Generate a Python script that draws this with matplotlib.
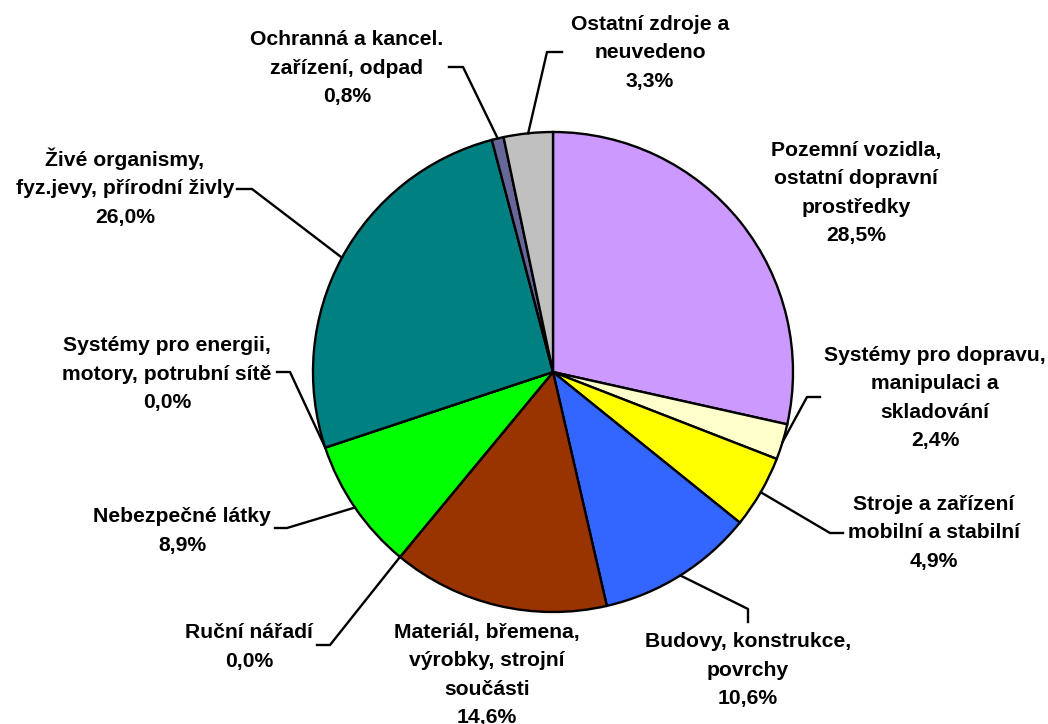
import numpy as np
import matplotlib.pyplot as plt

plt.rcParams['font.family'] = ['Liberation Sans', 'DejaVu Sans']

labels = [
    "Pozemní vozidla,\nostatní dopravní\nprostředky",
    "Systémy pro dopravu,\nmanipulaci a\nskladování",
    "Stroje a zařízení\nmobilní a stabilní",
    "Budovy, konstrukce,\npovrchy",
    "Materiál, břemena,\nvýrobky, strojní\nsoučásti",
    "Ruční nářadí",
    "Nebezpečné látky",
    "Systémy pro energii,\nmotory, potrubní sítě",
    "Živé organismy,\nfyz.jevy, přírodní živly",
    "Ochranná a kancel.\nzařízení, odpad",
    "Ostatní zdroje a\nneuvedeno",
]
shares = [28.5, 2.4, 4.9, 10.6, 14.6, 0.0, 8.9, 0.0, 26.0, 0.8, 3.3]
colors = ["#CC99FF", "#FFFFCC", "#FFFF00", "#3366FF", "#993300", "#808080",
          "#00FF00", "#808080", "#008080", "#666699", "#C0C0C0"]

# layout in pixels (y from top): label centre, leader bend, leader end
label_pos = [(856, 193), (935, 398), (934, 533), (748, 670), (487, 675),
             (249, 647), (182, 531), (167, 374), (125, 187), (347, 68), (650, 53)]
leaders = {
    1: [(807, 397), (820, 397)],
    2: [(830, 533), (843, 533)],
    3: [(748, 609), (748, 622)],
    5: [(330, 645), (317, 645)],
    6: [(287, 528), (275, 528)],
    7: [(290, 372), (277, 372)],
    8: [(252, 189), (237, 189)],
    9: [(463, 67), (449, 67)],
    10: [(547, 52), (562, 52)],
}

W, H = 1048, 724
cx, cy, R = 553, 372, 240

fig = plt.figure(figsize=(W / 100, H / 100), dpi=100)
ax = fig.add_axes([0, 0, 1, 1])

wedges, _ = ax.pie(shares, colors=colors, startangle=90, counterclock=False,
                   center=(cx, H - cy), radius=R,
                   wedgeprops=dict(edgecolor="black", linewidth=1.7))
ax.set_xlim(0, W)
ax.set_ylim(0, H)
ax.set_aspect("equal")
ax.axis("off")

for i, w in enumerate(wedges):
    lx, ly = label_pos[i]
    pct = f"{shares[i]:.1f}%".replace(".", ",")
    ax.text(lx, H - ly, f"{labels[i]}\n{pct}", ha="center", va="center",
            fontsize=15.2, fontweight="bold", linespacing=1.62)
    if i in leaders:
        mid = np.deg2rad((w.theta1 + w.theta2) / 2)
        x0 = cx + R * np.cos(mid)
        y0 = (H - cy) + R * np.sin(mid)
        pts = [(x0, y0)] + [(x, H - y) for x, y in leaders[i]]
        ax.plot([p[0] for p in pts], [p[1] for p in pts], color="black", lw=1.7)

fig.savefig("out.png", dpi=100)
